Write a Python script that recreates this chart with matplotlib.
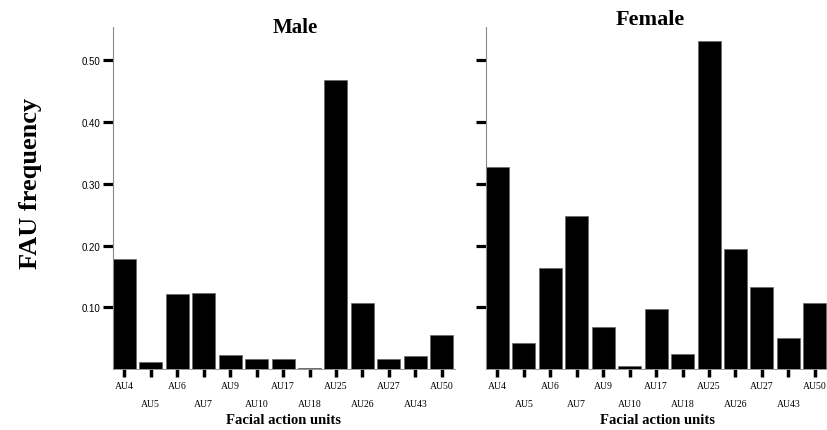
import matplotlib.pyplot as plt
import numpy as np

units = ['AU4', 'AU5', 'AU6', 'AU7', 'AU9', 'AU10', 'AU17', 'AU18',
         'AU25', 'AU26', 'AU27', 'AU43', 'AU50']
male = [0.178, 0.011, 0.121, 0.123, 0.022, 0.016, 0.016, 0.002,
        0.468, 0.107, 0.016, 0.021, 0.055]
female = [0.327, 0.042, 0.164, 0.248, 0.068, 0.005, 0.097, 0.025,
          0.532, 0.194, 0.133, 0.050, 0.107]
yticks = [0.10, 0.20, 0.30, 0.40, 0.50]

serif = 'Liberation Serif'
fig = plt.figure(figsize=(8.27, 4.31), dpi=100)

# stagger the tick labels on two rows like the original
xlabels = [u if i % 2 == 0 else '\n' + u for i, u in enumerate(units)]
x = np.arange(len(units))

panels = [(male, 'Male', 15, 0.1366, 0.934, 0.357), (female, 'Female', 16, 0.5877, 0.953, 0.786)]
for i, (vals, title, tsize, left, ty, tx) in enumerate(panels):
    ax = fig.add_axes([left, 0.1415, 0.4136, 0.7935])
    ax.bar(x, vals, width=0.87, color='black', edgecolor='#666666', linewidth=0.5)
    ax.set_xlim(-0.43, len(units) - 0.5)
    ax.set_ylim(0, 0.554)
    ax.set_yticks(yticks)
    if i == 0:
        ax.set_yticklabels(['%.2f' % v for v in yticks], fontsize=7,
                           family='Liberation Sans')
    else:
        ax.set_yticklabels([])
    ax.set_xticks(x)
    ax.set_xticklabels(xlabels, fontsize=7, family=serif, linespacing=2.3)
    ax.tick_params(axis='y', length=7, width=2.3, color='black', pad=2)
    ax.tick_params(axis='x', length=5.5, width=2.5, color='black', pad=3)
    for s in ['top', 'right']:
        ax.spines[s].set_visible(False)
    ax.spines['left'].set_color('#888888')
    ax.spines['left'].set_linewidth(0.8)
    ax.spines['bottom'].set_color('#888888')
    ax.spines['bottom'].set_linewidth(0.6)
    ax.set_xlabel('Facial action units', fontsize=10.5, family=serif,
                  fontweight='bold', labelpad=4)
    fig.text(tx, ty, title, ha='center', va='center', fontsize=tsize,
             family=serif, fontweight='bold')

fig.text(0.037, 0.575, 'FAU frequency', rotation=90, ha='center', va='center',
         fontsize=19, family=serif, fontweight='bold')

fig.savefig('out.png', dpi=100)
